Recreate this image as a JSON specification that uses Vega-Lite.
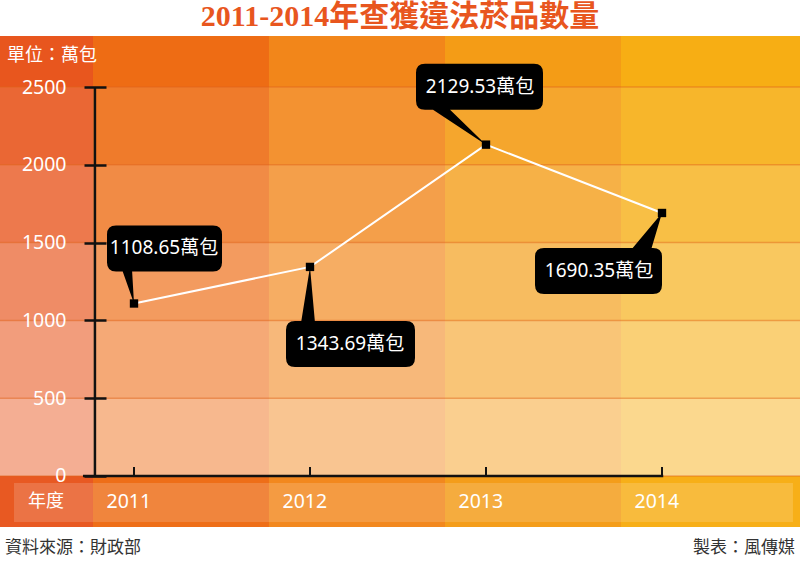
{
  "$schema": "https://vega.github.io/schema/vega-lite/v6.json",
  "width": 800,
  "height": 491,
  "autosize": {"type": "none"},
  "padding": {"left": 0, "right": 0, "top": 36, "bottom": 34},
  "background": "white",
  "title": {"text": "2011-2014年查獲違法菸品數量", "fontSize": 30, "font": "Liberation Serif, Noto Sans CJK TC", "fontWeight": "bold", "color": "#E8561E", "anchor": "middle", "offset": 4},
  "config": {"view": {"stroke": null}},
  "datasets": {
    "d": [
      {"year": 2011, "value": 1108.65, "label": "1108.65萬包"},
      {"year": 2012, "value": 1343.69, "label": "1343.69萬包"},
      {"year": 2013, "value": 2129.53, "label": "2129.53萬包"},
      {"year": 2014, "value": 1690.35, "label": "1690.35萬包"}
    ],
    "cols": [
      {"col": "L", "x0": 2010.2386, "x1": 2010.767},
      {"col": "2011", "x0": 2010.767, "x1": 2011.767},
      {"col": "2012", "x0": 2011.767, "x1": 2012.767},
      {"col": "2013", "x0": 2012.767, "x1": 2013.767},
      {"col": "2014", "x0": 2013.767, "x1": 2014.7841}
    ],
    "rows": [
      {"row": "h", "y0": 2500, "y1": 2827.8, "x0": 2010.2386, "x1": 2014.7841},
      {"row": "r1", "y0": 2000, "y1": 2500, "x0": 2010.2386, "x1": 2014.7841},
      {"row": "r2", "y0": 1500, "y1": 2000, "x0": 2010.2386, "x1": 2014.7841},
      {"row": "r3", "y0": 1000, "y1": 1500, "x0": 2010.2386, "x1": 2014.7841},
      {"row": "r4", "y0": 500, "y1": 1000, "x0": 2010.2386, "x1": 2014.7841},
      {"row": "r5", "y0": 0, "y1": 500, "x0": 2010.2386, "x1": 2014.7841},
      {"row": "f", "y0": -327.8, "y1": 0, "x0": 2010.2386, "x1": 2014.7841},
      {"row": "fi", "y0": -295.6, "y1": -45, "x0": 2010.3182, "x1": 2014.744}
    ],
    "grid": [{"v": 0}, {"v": 500}, {"v": 1000}, {"v": 1500}, {"v": 2000}, {"v": 2500}]
  },
  "layer": [
    {
      "data": {"name": "cols"},
      "mark": {"type": "rect", "strokeWidth": 0},
      "encoding": {
        "x": {"field": "x0", "type": "quantitative", "scale": {"domain": [2010.2386, 2014.7841], "nice": false, "zero": false},
          "axis": {"values": [2011, 2012, 2013, 2014], "format": "d", "title": null, "domain": false, "grid": false, "ticks": false, "offset": -26, "labelPadding": 0, "labelBaseline": "middle", "labelAlign": "left", "labelOffset": -28, "labelFlush": false, "labelOverlap": false, "labelColor": "white", "labelFontSize": 19.5, "labelFont": "Noto Sans", "zindex": 1}},
        "x2": {"field": "x1"},
        "y": {"datum": -327.8, "type": "quantitative", "scale": {"domain": [-327.8, 2827.8], "nice": false, "zero": false},
          "axis": {"values": [0, 500, 1000, 1500, 2000, 2500], "format": "d", "title": null, "domain": false, "grid": false, "ticks": true, "tickSize": 22, "tickWidth": 2.5, "tickColor": "#111111", "offset": -106, "labelPadding": 18, "labelColor": "white", "labelFontSize": 19.5, "labelFont": "Noto Sans", "labelOverlap": false, "zindex": 1}},
        "y2": {"datum": 2827.8},
        "fill": {"field": "col", "type": "nominal", "scale": {"domain": ["L", "2011", "2012", "2013", "2014"], "range": ["#E8561E", "#EE6C14", "#F2861A", "#F49C16", "#F7AE14"]}, "legend": null}
      }
    },
    {
      "data": {"name": "rows"},
      "mark": {"type": "rect", "fill": "white", "strokeWidth": 0},
      "encoding": {
        "x": {"field": "x0", "type": "quantitative"},
        "x2": {"field": "x1"},
        "y": {"field": "y0", "type": "quantitative"},
        "y2": {"field": "y1"},
        "opacity": {"field": "row", "type": "ordinal", "scale": {"type": "ordinal", "domain": ["h", "r1", "r2", "r3", "r4", "r5", "f", "fi"], "range": [0, 0.1, 0.21, 0.32, 0.42, 0.52, 0.02, 0.16]}, "legend": null}
      }
    },
    {
      "data": {"name": "grid"},
      "mark": {"type": "rule", "stroke": "#E0641A", "strokeWidth": 1.5, "opacity": 0.45},
      "encoding": {
        "x": {"datum": 2010.2386, "type": "quantitative"},
        "x2": {"datum": 2014.7841},
        "y": {"field": "v", "type": "quantitative"}
      }
    },
    {
      "data": {"values": [{"k": "yaxis"}]},
      "mark": {"type": "rule", "stroke": "#111111", "strokeWidth": 2.5},
      "encoding": {
        "x": {"datum": 2010.778, "type": "quantitative"},
        "y": {"datum": 0, "type": "quantitative"},
        "y2": {"datum": 2500}
      }
    },
    {
      "data": {"values": [{"k": "xaxis"}]},
      "mark": {"type": "rule", "stroke": "#111111", "strokeWidth": 2.5},
      "encoding": {
        "x": {"datum": 2010.71, "type": "quantitative"},
        "x2": {"datum": 2014.007},
        "y": {"datum": 0, "type": "quantitative"}
      }
    },
    {
      "data": {"name": "d"},
      "mark": {"type": "rule", "stroke": "#111111", "strokeWidth": 2},
      "encoding": {
        "x": {"field": "year", "type": "quantitative"},
        "y": {"datum": 0, "type": "quantitative"},
        "y2": {"datum": 58}
      }
    },
    {
      "data": {"name": "d"},
      "mark": {"type": "line", "stroke": "white", "strokeWidth": 2},
      "encoding": {
        "x": {"field": "year", "type": "quantitative"},
        "y": {"field": "value", "type": "quantitative"}
      }
    },
    {
      "data": {"name": "d"},
      "mark": {"type": "point", "filled": true, "size": 4, "opacity": 1, "fill": "#000000", "strokeWidth": 0},
      "encoding": {
        "x": {"field": "year", "type": "quantitative"},
        "y": {"field": "value", "type": "quantitative"},
        "shape": {"field": "year", "type": "nominal", "legend": null, "scale": {"domain": [2011, 2012, 2013, 2014], "range": [
          "M-18,-78H79Q88,-78 88,-69V-41Q88,-32 79,-32H-18Q-27,-32 -27,-41V-69Q-27,-78 -18,-78Z M0,0L-12,-34L-2,-34Z",
          "M-15,54H96Q105,54 105,63V91Q105,100 96,100H-15Q-24,100 -24,91V63Q-24,54 -15,54Z M0,0L5,56L-9,56Z",
          "M-61,-81H48Q57,-81 57,-72V-44Q57,-35 48,-35H-61Q-70,-35 -70,-44V-72Q-70,-81 -61,-81Z M0,0L-56,-37L-38,-37Z",
          "M-118,35H-9Q0,35 0,44V72Q0,81 -9,81H-118Q-127,81 -127,72V44Q-127,35 -118,35Z M0,0L-11,37L-31,37Z"
        ]}}
      }
    },
    {
      "data": {"name": "d"},
      "mark": {"type": "point", "shape": "square", "filled": true, "size": 70, "opacity": 1, "fill": "#000000", "strokeWidth": 0},
      "encoding": {
        "x": {"field": "year", "type": "quantitative"},
        "y": {"field": "value", "type": "quantitative"}
      }
    },
    {
      "data": {"name": "d"},
      "transform": [{"filter": "datum.year == 2011"}],
      "mark": {"type": "text", "color": "white", "fontSize": 19, "font": "Noto Sans, Noto Sans CJK TC", "dx": 30, "dy": -55},
      "encoding": {
        "x": {"field": "year", "type": "quantitative"},
        "y": {"field": "value", "type": "quantitative"},
        "text": {"field": "label"}
      }
    },
    {
      "data": {"name": "d"},
      "transform": [{"filter": "datum.year == 2012"}],
      "mark": {"type": "text", "color": "white", "fontSize": 19, "font": "Noto Sans, Noto Sans CJK TC", "dx": 40, "dy": 77},
      "encoding": {
        "x": {"field": "year", "type": "quantitative"},
        "y": {"field": "value", "type": "quantitative"},
        "text": {"field": "label"}
      }
    },
    {
      "data": {"name": "d"},
      "transform": [{"filter": "datum.year == 2013"}],
      "mark": {"type": "text", "color": "white", "fontSize": 19, "font": "Noto Sans, Noto Sans CJK TC", "dx": -6, "dy": -58},
      "encoding": {
        "x": {"field": "year", "type": "quantitative"},
        "y": {"field": "value", "type": "quantitative"},
        "text": {"field": "label"}
      }
    },
    {
      "data": {"name": "d"},
      "transform": [{"filter": "datum.year == 2014"}],
      "mark": {"type": "text", "color": "white", "fontSize": 19, "font": "Noto Sans, Noto Sans CJK TC", "dx": -63, "dy": 58},
      "encoding": {
        "x": {"field": "year", "type": "quantitative"},
        "y": {"field": "value", "type": "quantitative"},
        "text": {"field": "label"}
      }
    },
    {
      "data": {"values": [{"t": "單位：萬包"}]},
      "mark": {"type": "text", "color": "white", "fontSize": 18, "font": "Noto Sans CJK TC", "align": "left", "baseline": "middle"},
      "encoding": {
        "x": {"datum": 2010.279, "type": "quantitative"},
        "y": {"datum": 2700, "type": "quantitative"},
        "text": {"field": "t"}
      }
    },
    {
      "data": {"values": [{"t": "年度"}]},
      "mark": {"type": "text", "color": "white", "fontSize": 18, "font": "Noto Sans CJK TC", "align": "center", "baseline": "middle"},
      "encoding": {
        "x": {"datum": 2010.5, "type": "quantitative"},
        "y": {"datum": -170, "type": "quantitative"},
        "text": {"field": "t"}
      }
    },
    {
      "data": {"values": [{"t": "資料來源：財政部"}]},
      "mark": {"type": "text", "color": "#333333", "fontSize": 17, "font": "Noto Sans CJK TC", "align": "left", "baseline": "middle"},
      "encoding": {
        "x": {"datum": 2010.267, "type": "quantitative"},
        "y": {"datum": -462.7, "type": "quantitative"},
        "text": {"field": "t"}
      }
    },
    {
      "data": {"values": [{"t": "製表：風傳媒"}]},
      "mark": {"type": "text", "color": "#333333", "fontSize": 17, "font": "Noto Sans CJK TC", "align": "right", "baseline": "middle"},
      "encoding": {
        "x": {"datum": 2014.755, "type": "quantitative"},
        "y": {"datum": -462.7, "type": "quantitative"},
        "text": {"field": "t"}
      }
    }
  ]
}
